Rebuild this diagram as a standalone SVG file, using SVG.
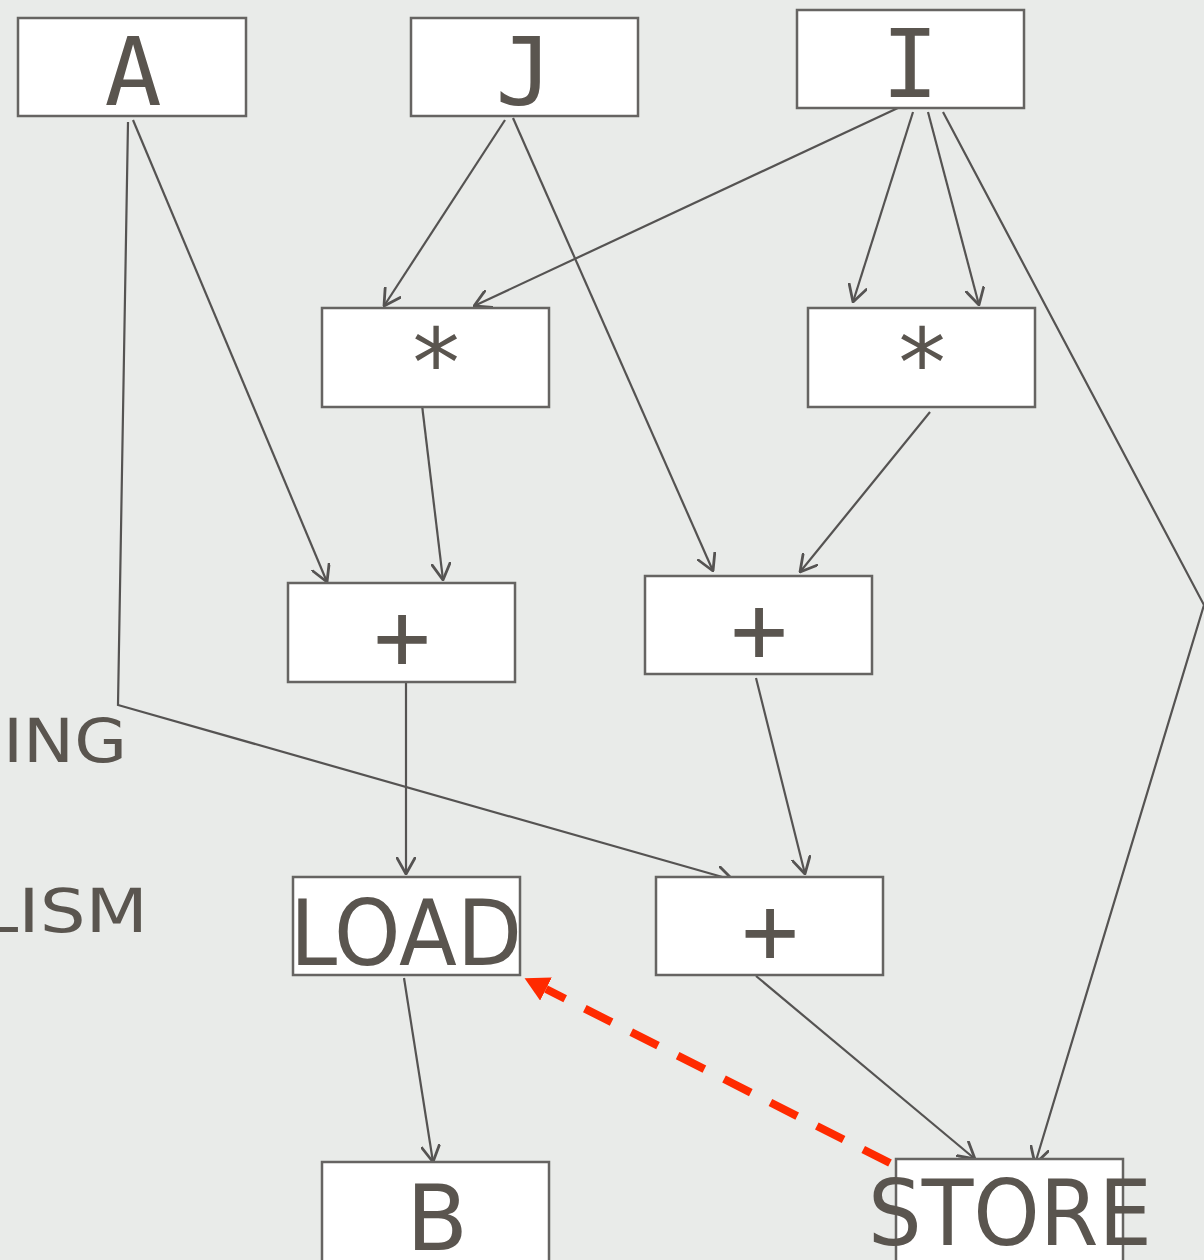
<svg xmlns="http://www.w3.org/2000/svg" width="1204" height="1260" viewBox="0 0 1204 1260">
  <style>
    .box { fill: #ffffff; stroke: #666462; stroke-width: 2.5; }
    .mono { font-family: "DejaVu Sans Mono", "Liberation Mono", monospace; font-size: 95px; fill: #5a554f; text-anchor: middle; }
    .sans { font-family: "DejaVu Sans", "Liberation Sans", sans-serif; font-size: 90px; fill: #5a554f; text-anchor: middle; }
    .side { font-family: "DejaVu Sans", "Liberation Sans", sans-serif; font-size: 60px; fill: #5a554f; }
    .edge { fill: none; stroke: #555352; stroke-width: 2.2; marker-end: url(#arrow); }
    .dep { fill: none; stroke: #ff2a00; stroke-width: 8; stroke-dasharray: 30 22; marker-end: url(#redArrow); }
  </style>
  <defs>
    <marker id="arrow" viewBox="0 0 18 20" refX="17" refY="10" markerWidth="18" markerHeight="20" markerUnits="userSpaceOnUse" orient="auto">
      <path d="M1,1 L17,10 L1,19" fill="none" stroke="#555352" stroke-width="2.8" stroke-linecap="round" stroke-linejoin="round"/>
    </marker>
    <marker id="redArrow" viewBox="0 0 24 26" refX="0" refY="13" markerWidth="24" markerHeight="26" markerUnits="userSpaceOnUse" orient="auto">
      <path d="M0,0 L24,13 L0,26 Z" fill="#ff2a00"/>
    </marker>
  </defs>

  <rect x="0" y="0" width="1204" height="1260" fill="#e9ebe9"/>

  <!-- side labels, cut off at the left edge -->
  <text class="side" x="3" y="762" textLength="124" lengthAdjust="spacingAndGlyphs">ING</text>
  <text class="side" x="-22" y="932" textLength="170" lengthAdjust="spacingAndGlyphs">LISM</text>

  <g id="connectors">
    <line class="edge" x1="133" y1="120" x2="327" y2="582"/>
    <polyline class="edge" points="128,122 118,705 733,880"/>
    <line class="edge" x1="505" y1="120" x2="384" y2="306"/>
    <line class="edge" x1="513" y1="118" x2="713" y2="571"/>
    <line class="edge" x1="915" y1="100" x2="474" y2="306"/>
    <line class="edge" x1="913" y1="112" x2="853" y2="302"/>
    <line class="edge" x1="928" y1="112" x2="979" y2="305"/>
    <polyline class="edge" points="943,112 1204,605 1035,1164"/>
    <line class="edge" x1="422" y1="405" x2="443" y2="580"/>
    <line class="edge" x1="930" y1="412" x2="800" y2="572"/>
    <line class="edge" x1="406" y1="682" x2="406" y2="874"/>
    <line class="edge" x1="756" y1="678" x2="805" y2="874"/>
    <line class="edge" x1="404" y1="978" x2="433" y2="1162"/>
    <line class="edge" x1="756" y1="976" x2="975" y2="1159"/>
    <line class="dep" x1="890" y1="1163" x2="546" y2="989"/>
  </g>

  <g id="node-A">
    <rect class="box" x="18" y="18" width="228" height="98"/>
    <text class="mono" x="133" y="105">A</text>
  </g>
  <g id="node-J">
    <rect class="box" x="411" y="18" width="227" height="98"/>
    <text class="mono" x="524" y="105">J</text>
  </g>
  <g id="node-I">
    <rect class="box" x="797" y="10" width="227" height="98"/>
    <text class="mono" x="910" y="97">I</text>
  </g>
  <g id="node-mul1">
    <rect class="box" x="322" y="308" width="227" height="99"/>
    <text class="mono" x="436" y="396">*</text>
  </g>
  <g id="node-mul2">
    <rect class="box" x="808" y="308" width="227" height="99"/>
    <text class="mono" x="922" y="396">*</text>
  </g>
  <g id="node-add1">
    <rect class="box" x="288" y="583" width="227" height="99"/>
    <text class="mono" x="402" y="669">+</text>
  </g>
  <g id="node-add2">
    <rect class="box" x="645" y="576" width="227" height="98"/>
    <text class="mono" x="759" y="662">+</text>
  </g>
  <g id="node-add3">
    <rect class="box" x="656" y="877" width="227" height="98"/>
    <text class="mono" x="770" y="963">+</text>
  </g>
  <g id="node-LOAD">
    <rect class="box" x="293" y="877" width="227" height="98"/>
    <text class="sans" x="406" y="965" textLength="232" lengthAdjust="spacingAndGlyphs">LOAD</text>
  </g>
  <g id="node-B">
    <rect class="box" x="322" y="1162" width="227" height="110"/>
    <text class="sans" x="437" y="1250">B</text>
  </g>
  <g id="node-STORE">
    <rect class="box" x="896" y="1159" width="227" height="110"/>
    <text class="sans" x="1010" y="1245" textLength="284" lengthAdjust="spacingAndGlyphs">STORE</text>
  </g>
</svg>
